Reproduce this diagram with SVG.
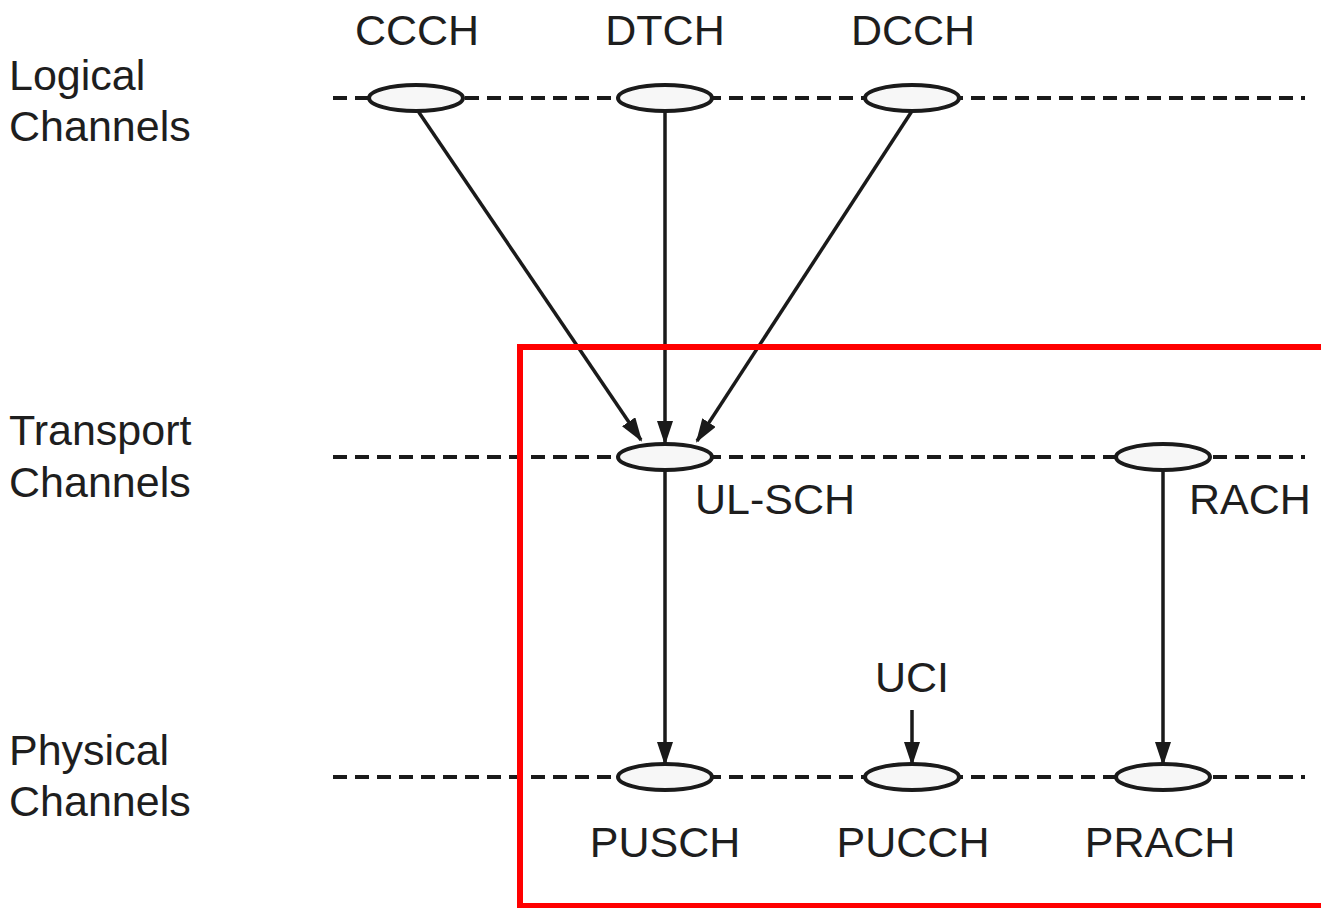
<svg xmlns="http://www.w3.org/2000/svg" width="1321" height="908" viewBox="0 0 1321 908">
<defs>
<style>
.t{font-family:"Liberation Sans",Arial,sans-serif;font-size:43px;fill:#1e1e1e}
.m{text-anchor:middle}
.d{stroke:#1a1a1a;stroke-width:4;stroke-dasharray:14 8;fill:none}
.e{fill:#f7f7f7;stroke:#1a1a1a;stroke-width:4}
.a{stroke:#1a1a1a;stroke-width:3.5;fill:none}
</style>
<marker id="arr" markerWidth="24" markerHeight="16" refX="22" refY="8" orient="auto" markerUnits="userSpaceOnUse">
<path d="M0,0 L24,8 L0,16 z" fill="#1a1a1a"/>
</marker>
</defs>
<rect width="1321" height="908" fill="#fff"/>
<g id="labels">
<text class="t" x="9" y="90">Logical</text>
<text class="t" x="9" y="141">Channels</text>
<text class="t" x="9" y="445">Transport</text>
<text class="t" x="9" y="497">Channels</text>
<text class="t" x="9" y="765">Physical</text>
<text class="t" x="9" y="816">Channels</text>
</g>
<g id="lines">
<line class="d" x1="333" y1="98" x2="1305" y2="98"/>
<line class="d" x1="333" y1="457" x2="1305" y2="457"/>
<line class="d" x1="333" y1="777" x2="1305" y2="777"/>
</g>
<g id="connectors">
<line class="a" x1="418" y1="111" x2="641" y2="440" marker-end="url(#arr)"/>
<line class="a" x1="665" y1="111" x2="665" y2="443" marker-end="url(#arr)"/>
<line class="a" x1="912" y1="111" x2="697" y2="441" marker-end="url(#arr)"/>
<line class="a" x1="665" y1="470" x2="665" y2="764" marker-end="url(#arr)"/>
<line class="a" x1="1163" y1="470" x2="1163" y2="764" marker-end="url(#arr)"/>
<line class="a" x1="912" y1="710" x2="912" y2="764" marker-end="url(#arr)"/>
</g>
<g id="CCCH"><ellipse class="e" cx="416" cy="98" rx="47" ry="13"/><text class="t m" x="417" y="45">CCCH</text></g>
<g id="DTCH"><ellipse class="e" cx="665" cy="98" rx="47" ry="13"/><text class="t m" x="665" y="45">DTCH</text></g>
<g id="DCCH"><ellipse class="e" cx="912" cy="98" rx="47" ry="13"/><text class="t m" x="913" y="45">DCCH</text></g>
<g id="ULSCH"><ellipse class="e" cx="665" cy="457" rx="47" ry="13"/><text class="t" x="695" y="514">UL-SCH</text></g>
<g id="RACH"><ellipse class="e" cx="1163" cy="457" rx="47" ry="13"/><text class="t" x="1189" y="514">RACH</text></g>
<g id="UCI"><text class="t m" x="912" y="692">UCI</text></g>
<g id="PUSCH"><ellipse class="e" cx="665" cy="777" rx="47" ry="13"/><text class="t m" x="665" y="857">PUSCH</text></g>
<g id="PUCCH"><ellipse class="e" cx="912" cy="777" rx="47" ry="13"/><text class="t m" x="913" y="857">PUCCH</text></g>
<g id="PRACH"><ellipse class="e" cx="1163" cy="777" rx="47" ry="13"/><text class="t m" x="1160" y="857">PRACH</text></g>
<g id="highlight"><rect x="520" y="347" width="820" height="559" fill="none" stroke="#ff0000" stroke-width="6"/></g>
</svg>
